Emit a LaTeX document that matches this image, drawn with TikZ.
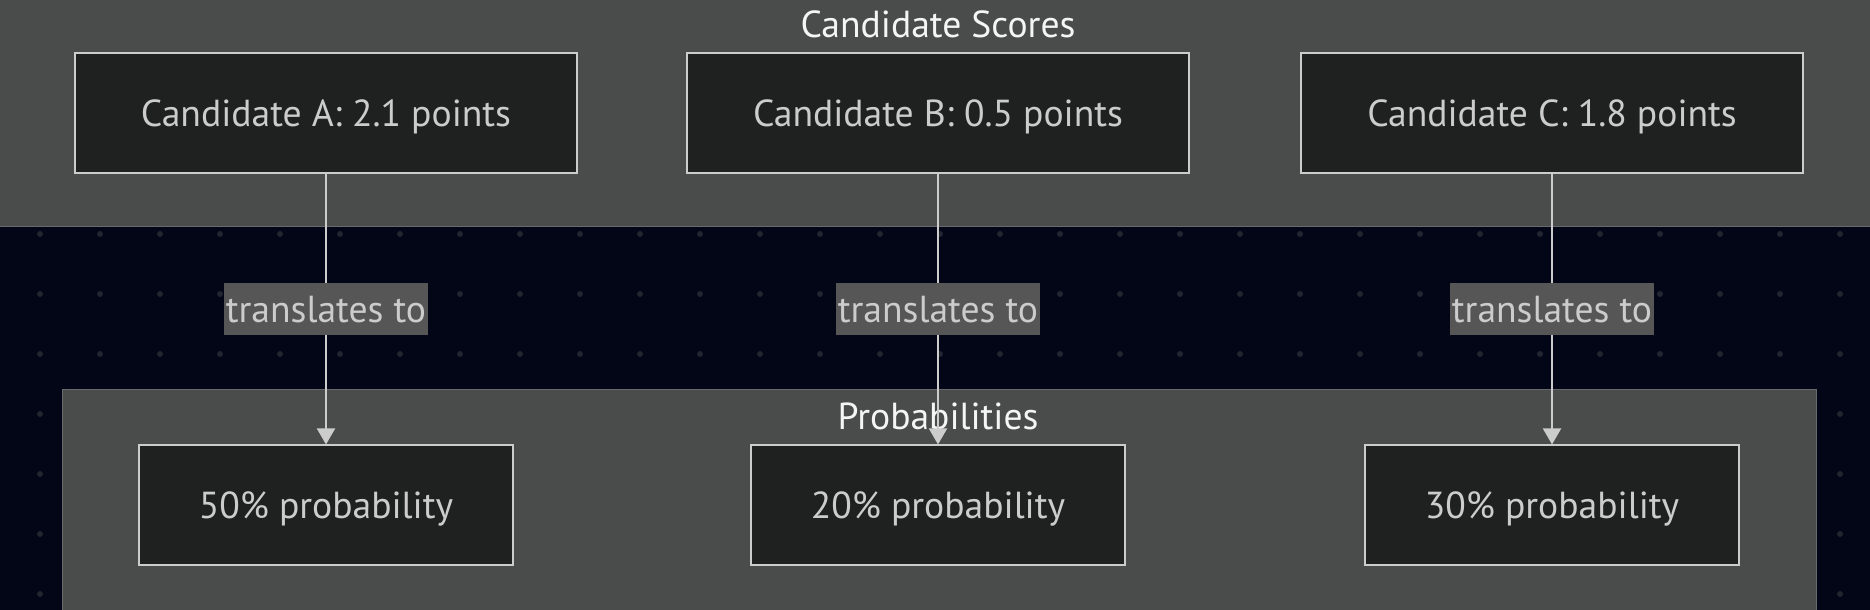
\documentclass[tikz,border=0pt]{standalone}
\usepackage{fontspec}
\setmainfont{PT Sans}
\usetikzlibrary{arrows.meta}
\definecolor{midnight}{RGB}{2, 6, 23}
\definecolor{dotgray}{RGB}{34, 37, 48}
\definecolor{clustergray}{RGB}{74, 75, 75}
\definecolor{clusterline}{RGB}{104, 106, 108}
\definecolor{boxfill}{RGB}{31, 32, 32}
\definecolor{boxline}{RGB}{204, 204, 204}
\definecolor{labelfill}{RGB}{86, 86, 86}
\definecolor{softgray}{RGB}{204, 204, 204}
\definecolor{titlewhite}{RGB}{245, 245, 245}

\tikzset{
    score/.style={draw=boxline, fill=boxfill, line width=0.02cm,
                  minimum width=5.02cm, minimum height=1.19cm, text depth=0pt,
                  text=softgray, font=\fontsize{10.7}{12}\selectfont},
    chance/.style={score, minimum width=3.74cm},
    tag/.style={fill=labelfill, text=softgray, inner xsep=0.02cm, inner ysep=0pt,
                minimum height=0.52cm, text depth=0pt, font=\fontsize{10.7}{12}\selectfont},
    heading/.style={text=titlewhite, font=\fontsize{10.7}{12}\selectfont},
    link/.style={draw=boxline, line width=0.02cm, -{Triangle[length=0.16cm, width=0.18cm]}}
}

\begin{document}
\begin{tikzpicture}[x=0.01cm, y=-0.01cm]
            % Canvas & dot grid
            \useasboundingbox                                       (0, 0) rectangle (1870, 610);
            \clip                                                   (0, 0) rectangle (1870, 610);
            \fill[midnight]                                         (0, 0) rectangle (1870, 610);
            \foreach \x in {40, 100, ..., 1840}
                \foreach \y in {234, 294, ..., 594}
                    \fill[dotgray] (\x, \y) circle (3);
            % Candidate Scores cluster
            \filldraw[fill=clustergray, draw=clusterline, line width=0.01cm] (-10, -10) rectangle (1880, 227);
            \node[heading] (scoresTitle) at ( 938,  24) {Candidate Scores};
            % Probabilities cluster
            \filldraw[fill=clustergray, draw=clusterline, line width=0.01cm] (62.5, 389.5) rectangle (1816, 640);
            \node[heading] (chanceTitle) at ( 938, 416) {Probabilities};
            % Scores
            \node[score]  (candA)  at ( 326, 113) {Candidate A: 2.1 points};
            \node[score]  (candB)  at ( 938, 113) {Candidate B: 0.5 points};
            \node[score]  (candC)  at (1552, 113) {Candidate C: 1.8 points};
            % Probabilities
            \node[chance] (probA)  at ( 326, 505) {50\% probability};
            \node[chance] (probB)  at ( 938, 505) {20\% probability};
            \node[chance] (probC)  at (1552, 505) {30\% probability};
            % Links
            \draw[link] (candA) -- node[tag] (tagA) {translates to} (probA);
            \draw[link] (candB) -- node[tag] (tagB) {translates to} (probB);
            \draw[link] (candC) -- node[tag] (tagC) {translates to} (probC);
\end{tikzpicture}
\end{document}
